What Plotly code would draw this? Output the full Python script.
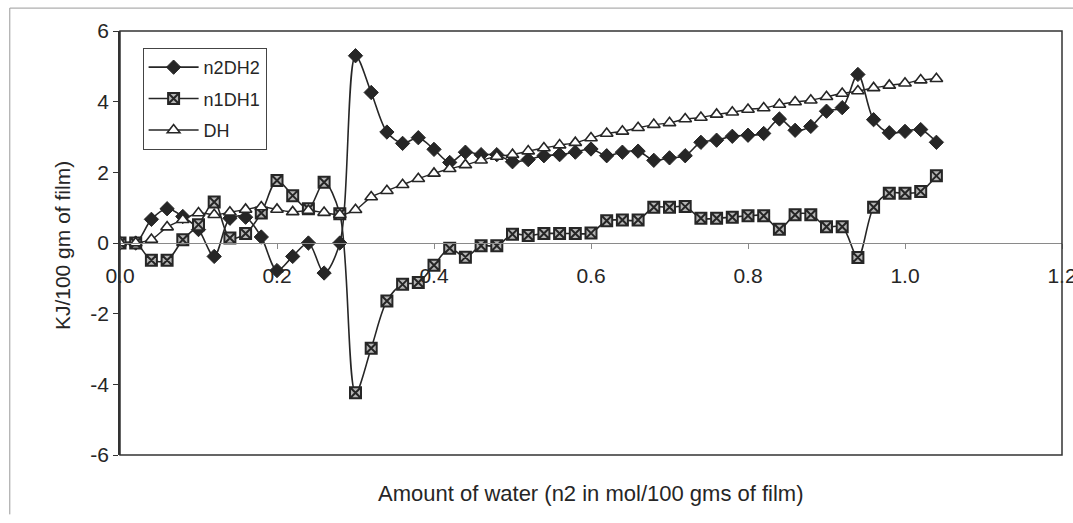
import plotly.graph_objects as go

# Amount of water, n2 (mol / 100 g of film)
water = [0.00, 0.02, 0.04, 0.06, 0.08, 0.10, 0.12, 0.14, 0.16, 0.18,
         0.20, 0.22, 0.24, 0.26, 0.28, 0.30, 0.32, 0.34, 0.36, 0.38,
         0.40, 0.42, 0.44, 0.46, 0.48, 0.50, 0.52, 0.54, 0.56, 0.58,
         0.60, 0.62, 0.64, 0.66, 0.68, 0.70, 0.72, 0.74, 0.76, 0.78,
         0.80, 0.82, 0.84, 0.86, 0.88, 0.90, 0.92, 0.94, 0.96, 0.98,
         1.00, 1.02, 1.04]

n2DH2 = [0.00, 0.00, 0.67, 0.97, 0.75, 0.38, -0.38, 0.70, 0.73, 0.17,
         -0.78, -0.38, 0.00, -0.85, 0.00, 5.30, 4.26, 3.14, 2.82, 2.98,
         2.65, 2.28, 2.57, 2.50, 2.50, 2.30, 2.36, 2.47, 2.50, 2.57,
         2.66, 2.47, 2.57, 2.60, 2.34, 2.41, 2.47, 2.85, 2.91, 3.02,
         3.05, 3.10, 3.51, 3.19, 3.30, 3.73, 3.83, 4.77, 3.49, 3.12,
         3.16, 3.21, 2.85]

n1DH1 = [0.00, 0.00, -0.49, -0.49, 0.09, 0.52, 1.16, 0.14, 0.27, 0.85,
         1.77, 1.34, 0.97, 1.72, 0.83, -4.24, -2.98, -1.64, -1.17, -1.12,
         -0.63, -0.15, -0.40, -0.08, -0.08, 0.25, 0.21, 0.27, 0.27, 0.27,
         0.28, 0.63, 0.65, 0.65, 1.01, 1.01, 1.03, 0.70, 0.70, 0.73,
         0.77, 0.77, 0.39, 0.80, 0.80, 0.46, 0.46, -0.41, 1.01, 1.41,
         1.41, 1.46, 1.90]

DH = [0.00, 0.00, 0.10, 0.45, 0.66, 0.85, 0.80, 0.87, 0.95, 1.02,
      0.95, 0.88, 0.92, 0.86, 0.80, 0.94, 1.30, 1.48, 1.65, 1.82,
      1.97, 2.10, 2.21, 2.34, 2.45, 2.50, 2.60, 2.69, 2.77, 2.84,
      2.97, 3.10, 3.16, 3.26, 3.35, 3.40, 3.51, 3.55, 3.64, 3.70,
      3.78, 3.82, 3.92, 3.99, 4.04, 4.14, 4.23, 4.30, 4.39, 4.46,
      4.52, 4.61, 4.65]

# axis tick labels
x_ticks = [0.0, 0.2, 0.4, 0.6, 0.8, 1.0, 1.2]
x_tick_text = ["0.0", "0.2", "0.4", "0.6", "0.8", "1.0", "1.2"]
y_ticks = [-6, -4, -2, 0, 2, 4, 6]
y_tick_text = ["-6", "-4", "-2", "0", "2", "4", "6"]

INK = "#262626"
FONT = "Liberation Sans, Arial, sans-serif"

fig = go.Figure()

fig.add_trace(go.Scatter(
    x=water, y=n2DH2, name="n2DH2", mode="lines+markers",
    legendgroup="a",
    line=dict(color=INK, width=1.6, shape="spline", smoothing=0.9),
    marker=dict(symbol="diamond", size=11, color=INK,
                line=dict(color=INK, width=1)),
))
fig.add_trace(go.Scatter(
    x=water, y=n1DH1, name="n1DH1", mode="lines+markers",
    legendgroup="b",
    line=dict(color=INK, width=1.6, shape="spline", smoothing=0.9),
    marker=dict(symbol="square-x", size=11, color="#b5b5b5",
                line=dict(color=INK, width=2)),
))
fig.add_trace(go.Scatter(
    x=water, y=DH, name="DH", mode="lines+markers",
    legendgroup="c",
    line=dict(color=INK, width=1.4, shape="spline", smoothing=0.9),
    marker=dict(symbol="triangle-up", size=11, color="white",
                line=dict(color=INK, width=1.6)),
))

fig.update_layout(
    width=1073, height=523,
    margin=dict(l=120, r=11, t=31, b=68),
    paper_bgcolor="white", plot_bgcolor="white",
    font=dict(family=FONT, size=21, color="#262626"),
    showlegend=True,
    legend=dict(
        x=0.024, y=0.96, xanchor="left", yanchor="top",
        bgcolor="white", bordercolor="#444444", borderwidth=1,
        font=dict(family=FONT, size=18, color="#262626"),
        traceorder="grouped", tracegroupgap=5, itemwidth=50,
    ),
    xaxis=dict(
        range=[0, 1.2], tickvals=x_ticks, ticktext=x_tick_text,
        anchor="free", position=0.5,
        showline=True, linecolor="#8a8a8a", linewidth=1.2,
        ticks="outside", ticklen=5, tickcolor="#8a8a8a",
        ticklabelstandoff=9, ticklabeloverflow="allow",
        showgrid=False, zeroline=False, automargin=False,
        tickfont=dict(family=FONT, size=21, color="#262626"),
    ),
    yaxis=dict(
        range=[-6, 6], tickvals=y_ticks, ticktext=y_tick_text,
        showline=True, linecolor="#333333", linewidth=1.5,
        ticks="outside", ticklen=5, tickcolor="#333333",
        showgrid=False, zeroline=False, automargin=False,
        tickfont=dict(family=FONT, size=21, color="#262626"),
    ),
    shapes=[
        # plot-area frame
        dict(type="rect", xref="paper", yref="paper", x0=0, x1=1, y0=0, y1=1,
             line=dict(color="#333333", width=1.5), layer="above"),
        # outer chart border (left and top edges)
        dict(type="line", xref="paper", yref="paper",
             x0=-0.117, x1=-0.117, y0=-0.14, y1=1.054,
             line=dict(color="#9a9a9a", width=1)),
        dict(type="line", xref="paper", yref="paper",
             x0=-0.117, x1=1.02, y0=1.054, y1=1.054,
             line=dict(color="#9a9a9a", width=1)),
    ],
    annotations=[
        dict(text="Amount of water (n2 in mol/100 gms of film)",
             xref="paper", yref="paper", x=0.5, y=-0.09,
             xanchor="center", yanchor="middle", showarrow=False,
             font=dict(family=FONT, size=22, color="#262626")),
        dict(text="KJ/100 gm of film)", textangle=-90,
             xref="paper", yref="paper", x=-0.0616, y=0.495,
             xanchor="center", yanchor="middle", showarrow=False,
             font=dict(family=FONT, size=21, color="#262626")),
    ],
)

fig.write_html("out.html")
